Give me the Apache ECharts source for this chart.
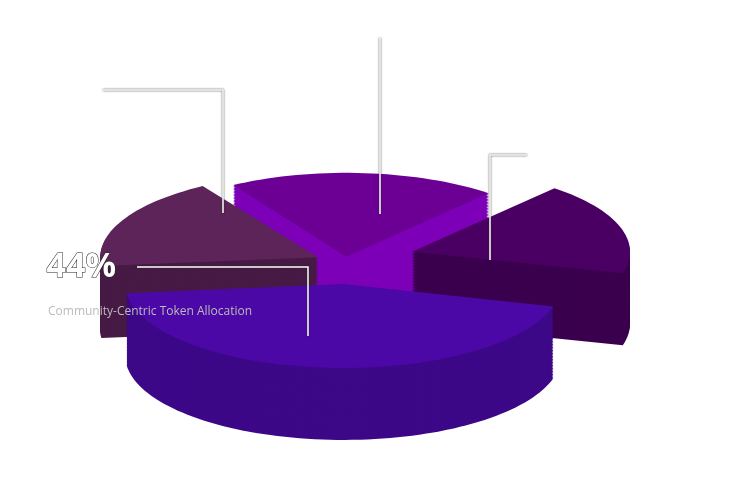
<!DOCTYPE html>
<html>
<head>
<meta charset="utf-8">
<script src="https://cdn.jsdelivr.net/npm/echarts@6/dist/echarts.min.js"></script>
<style>html,body{margin:0;background:#fff}#c{width:732px;height:487px}</style>
</head>
<body>
<div id="c"></div>
<script>
"use strict";

var names = ['Community-Centric Token Allocation', 'Ecosystem', 'Team', 'Reserve'];
var values = [44, 18, 20, 18];
var topColors = ['#4c08a6', '#4a0062', '#6c0095', '#5c2458'];
var sideColors = ['#3c0888', '#3a004e', '#7d00b8', '#471a45'];
var offsets = [20, 70, 14, 30];

var chart = echarts.init(document.getElementById('c'));

var cx = 345, cy = 268, rx = 218, ry = 84, depth = 72;
var startDeg = 174; // blue slice starts at left-front, goes clockwise on screen toward right
var total = values.reduce(function (a, b) { return a + b; }, 0);

// angles for each slice (degrees, screen: positive is downward)
var slices = [];
var a = startDeg;
values.forEach(function (v, i) {
    var span = v / total * 360;
    slices.push({ idx: i, a0: a - span, a1: a, mid: a - span / 2 });
    a -= span;
});
// paint back slices first
var order = slices.slice().sort(function (p, q) {
    return Math.sin(p.mid * Math.PI / 180) - Math.sin(q.mid * Math.PI / 180);
});

function topPoints(s) {
    var m = s.mid * Math.PI / 180, off = offsets[s.idx];
    var ox = cx + off * Math.cos(m), oy = cy + off * Math.sin(m) * 0.8;
    var pts = [[ox, oy]];
    for (var t = s.a0; t <= s.a1 + 0.01; t += 2) {
        var r = t * Math.PI / 180;
        pts.push([ox + rx * Math.cos(r), oy + ry * Math.sin(r)]);
    }
    return pts;
}

var lineStyle = { stroke: '#fff', lineWidth: 1.5, shadowBlur: 2, shadowColor: '#222' };

chart.setOption({
    animation: false,
    xAxis: { show: false, min: 0, max: 1 },
    yAxis: { show: false, min: 0, max: 1 },
    grid: { left: 0, right: 0, top: 0, bottom: 0 },
    series: [{
        type: 'custom',
        coordinateSystem: 'none',
        z: 1,
        data: order.map(function (s) { return [s.idx, values[s.idx]]; }),
        renderItem: function (params, api) {
            var s = order[params.dataIndex];
            var pts = topPoints(s);
            var children = [];
            for (var d = depth; d > 0; d -= 1.5) {
                children.push({
                    type: 'polygon',
                    shape: { points: pts.map(function (p) { return [p[0], p[1] + d]; }) },
                    style: { fill: sideColors[s.idx] }
                });
            }
            children.push({
                type: 'polygon',
                shape: { points: pts },
                style: { fill: topColors[s.idx] }
            });
            return { type: 'group', children: children };
        }
    }],
    graphic: {
        elements: [
            { type: 'polyline', z: 100, shape: { points: [[308, 336], [308, 267], [137, 267]] }, style: lineStyle },
            { type: 'polyline', z: 100, shape: { points: [[223, 213], [223, 90], [103, 90]] }, style: lineStyle },
            { type: 'polyline', z: 100, shape: { points: [[380, 214], [380, 38]] }, style: lineStyle },
            { type: 'polyline', z: 100, shape: { points: [[490, 260], [490, 155], [527, 155]] }, style: lineStyle },
            { type: 'text', z: 100, left: 46, top: 250,
              style: { text: values[0] + '%', fill: '#fff', font: 'bold 34px "Open Sans"',
                       stroke: '#222', lineWidth: 1, shadowBlur: 3, shadowColor: '#000' } },
            { type: 'text', z: 100, left: 48, top: 306,
              style: { text: names[0], fill: '#bbb', font: '12px "Open Sans"',
                       shadowBlur: 2, shadowColor: '#000' } }
        ]
    }
});
</script>
</body>
</html>
